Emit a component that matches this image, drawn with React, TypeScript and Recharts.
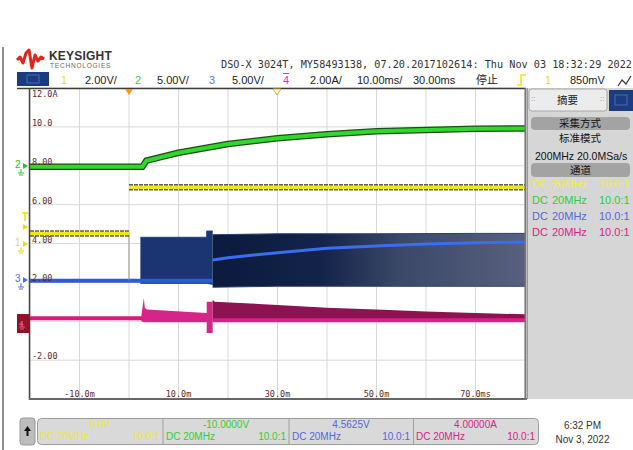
import React from 'react';
import { ComposedChart, Line, Area, XAxis, YAxis, CartesianGrid } from 'recharts';

// time axis (ms) and amplitude axis (ch4 scale, A)
const timeTicks = [-20, -10, 0, 10, 20, 30, 40, 50, 60, 70, 80];
const timeLabelTicks = [-10, 10, 30, 50, 70];
const timeLabels = ['-10.0m', '10.0m', '30.0m', '50.0m', '70.0ms'];
const ampTicks = [-4, -2, 0, 2, 4, 6, 8, 10, 12];
const ampLabelTicks = [12, 10, 8, 6, 4, 2, -2];
const ampLabels = ['12.0A', '10.0', '8.00', '6.00', '4.00', '2.00', '-2.00'];

// channel 1 (yellow)
const ch1PreTime = [-20, 0];
const ch1PreValue = [4.52, 4.52];
const ch1PostTime = [0, 80];
const ch1PostValue = [6.89, 6.89];
const ch1EdgeTime = [0, 0];
const ch1EdgeValue = [4.52, 2.1];

// channel 2 (green)
const ch2Time = [-20, 2.7, 3.5, 10, 20, 30, 40, 50, 60, 70, 80];
const ch2Value = [7.95, 7.95, 8.26, 8.67, 9.12, 9.41, 9.62, 9.77, 9.84, 9.9, 9.92];

// channel 3 (blue)
const ch3FlatTime = [-20, 16.9];
const ch3FlatValue = [2.09, 2.09];
const ch3BurstTime = [2.3, 15.7, 15.7, 16.9];
const ch3BurstLow = [1.95, 1.95, 1.95, 1.9];
const ch3BurstHigh = [4.32, 4.32, 4.64, 4.64];
const ch3SwitchTime = [16.9, 30, 50, 70, 80];
const ch3SwitchLow = [1.75, 1.8, 1.8, 1.8, 1.8];
const ch3SwitchHigh = [4.45, 4.5, 4.5, 4.52, 4.52];
const ch3MeanTime = [16.9, 20, 30, 40, 50, 60, 70, 80];
const ch3MeanValue = [3.15, 3.27, 3.53, 3.75, 3.87, 3.97, 4.04, 4.08];

// channel 4 (magenta)
const ch4FlatTime = [-20, 2.7];
const ch4FlatValue = [0.15, 0.15];
const ch4StartTime = [2.5, 3.0, 3.2, 3.6, 15.7, 15.7, 16.9];
const ch4StartLow = [0.0, -0.05, -0.05, -0.05, -0.05, -0.6, -0.6];
const ch4StartHigh = [0.3, 1.2, 0.7, 0.6, 0.42, 1.0, 1.0];
const ch4RunTime = [16.9, 17.3, 30, 40, 50, 60, 70, 80];
const ch4RunLow = [0.05, 0.05, 0.05, 0.05, 0.05, 0.05, 0.05, 0.05];
const ch4RunHigh = [1.1, 1.0, 0.84, 0.7, 0.6, 0.5, 0.42, 0.36];
const ch4BaseTime = [16.9, 80];
const ch4BaseValue = [0.05, 0.05];

const toPoints = (t: number[], v: number[]) => t.map((x, i) => ({ t: x, v: v[i] }));
const toRange = (t: number[], lo: number[], hi: number[]) => t.map((x, i) => ({ t: x, r: [lo[i], hi[i]] }));

const LABEL = '#5b2a2a';
const MONO = '"DejaVu Sans Mono", monospace';
const SANS = '"Liberation Sans", Arial, sans-serif';
const CJK = '"Noto Sans CJK SC", sans-serif';

function TimeTick(props: any) {
  const { x, payload } = props;
  const i = timeLabelTicks.indexOf(payload.value);
  if (i < 0) return <g />;
  return (
    <text x={x} y={397} textAnchor="middle" fontSize={8.5} fontFamily={MONO} fill={LABEL}>
      {timeLabels[i]}
    </text>
  );
}

function AmpTick(props: any) {
  const { y, payload } = props;
  const i = ampLabelTicks.indexOf(payload.value);
  if (i < 0) return <g />;
  return (
    <text x={32} y={payload.value === 12 ? y + 9 : y - 1} fontSize={8.5} fontFamily={MONO} fill={LABEL}>
      {ampLabels[i]}
    </text>
  );
}

const txt = (x: number, y: number, s: string, color = '#222', size = 11, font = SANS, extra: any = {}) => (
  <div style={{ position: 'absolute', left: x, top: y, fontSize: size, fontFamily: font, color, whiteSpace: 'nowrap', lineHeight: 1, ...extra }}>{s}</div>
);

function Chrome() {
  return (
    <>
      <svg width={633} height={450} style={{ position: 'absolute', left: 0, top: 0 }}>
        <polyline points="17,60 20,57 23,63 26,53 29,50 32,68 35,55 38,61 41,57 44,59" fill="none" stroke="#e1251b" strokeWidth={3} strokeLinejoin="round" />
        <line x1={3} y1={47} x2={3} y2={450} stroke="#666" strokeWidth={1.5} />
        <rect x={17} y={72} width={32} height={14} fill="#1b3d80" />
        <rect x={27} y={75} width={12} height={8} fill="none" stroke="#4a6ab0" strokeWidth={1} />
        {/* trigger edge icon + run mode icon */}
        <path d="M517,85 L521,85 L521,75 L526,75" fill="none" stroke="#f2e21a" strokeWidth={1.5} />
        <path d="M618,86 L622,80 L626,84 L631,76" fill="none" stroke="#333" strokeWidth={1.2} />
        {/* plot frame */}
        <line x1={17} y1={88.5} x2={526} y2={88.5} stroke="#3c3c3c" strokeWidth={1.5} />
        <line x1={29.5} y1={88} x2={29.5} y2={400} stroke="#444" strokeWidth={1.5} />
        <line x1={29} y1={399} x2={527} y2={399} stroke="#666" strokeWidth={2} />
        <line x1={525.5} y1={88} x2={525.5} y2={400} stroke="#777" strokeWidth={2} />
        {/* trigger position markers */}
        <polygon points="125,89 133,89 129,95" fill="#f29a1c" />
        <polygon points="273,89 281,89 277,95" fill="#fff" stroke="#e8a53a" strokeWidth={1} />
        {/* channel ground markers */}
        <polygon points="23,163 28,166 23,169" fill="#22c922" />
        <path d="M21,169 L21,173 M18,173 L24,173 M19,175 L23,175" stroke="#22c922" strokeWidth={1} />
        <path d="M22,213 L28,213 M25,213 L25,221" stroke="#e8e000" strokeWidth={1.5} />
        <polygon points="23,224 28,227 23,230" fill="#e8e000" />
        <polygon points="23,241 28,244 23,247" fill="#e8e000" />
        <path d="M21,247 L21,251 M18,251 L24,251 M19,253 L23,253" stroke="#e8e000" strokeWidth={1} />
        <polygon points="23,277 28,280 23,283" fill="#4d6fe0" />
        <path d="M21,283 L21,287 M18,287 L24,287 M19,289 L23,289" stroke="#4d6fe0" strokeWidth={1} />
        <rect x={17} y={314} width={13} height={19} fill="#8e1426" />
        <path d="M22,323 L22,327 M19,327 L25,327 M20,329 L24,329" stroke="#e85a9a" strokeWidth={1} />
        {/* right panel */}
        <rect x={527} y={88} width={106} height={311} fill="#d6d6d6" />
        <line x1={527.5} y1={88} x2={527.5} y2={399} stroke="#9a9a9a" />
        <rect x={529} y={89} width={78} height={22} rx={3} fill="#ececec" stroke="#a8a8a8" />
        <rect x={609} y={90} width={24} height={21} fill="#1b3d80" />
        <rect x={615} y={95} width={12} height={10} fill="none" stroke="#4a6ab0" />
        <rect x={531} y={117} width={99} height={13} rx={4} fill="#a3a3a3" />
        <rect x={531} y={163} width={99} height={14} rx={4} fill="#a3a3a3" />
        {/* bottom measurement bar */}
        <rect x={20} y={418} width={15} height={27} rx={3} fill="#bdbdbd" stroke="#9a9a9a" />
        <path d="M27.5,426 L24,431 L31,431 Z M26.5,431 L28.5,431 L28.5,436 L26.5,436 Z" fill="#111" />
        <rect x={37.5} y={418.5} width={501} height={26} rx={4} fill="#d9d9d9" stroke="#9c9c9c" />
        <line x1={163} y1={419} x2={163} y2={444} stroke="#a0a0a0" />
        <line x1={289} y1={419} x2={289} y2={444} stroke="#a0a0a0" />
        <line x1={413.5} y1={419} x2={413.5} y2={444} stroke="#a0a0a0" />
      </svg>

      {txt(49, 50, 'KEYSIGHT', '#333', 12, SANS, { fontWeight: 'bold', letterSpacing: 0.2 })}
      {txt(50, 63, 'TECHNOLOGIES', '#666', 6.5, SANS, { letterSpacing: 0.8 })}
      {txt(221, 60, 'DSO-X 3024T, MY58493138, 07.20.2017102614: Thu Nov 03 18:32:29 2022', '#333', 10.2, MONO)}

      {txt(61, 75, '1', '#e2e000')}
      {txt(85, 75, '2.00V/')}
      {txt(135, 75, '2', '#33cc33')}
      {txt(157, 75, '5.00V/')}
      {txt(209, 75, '3', '#5577dd')}
      {txt(232, 75, '5.00V/')}
      {txt(283, 75, '4', '#dd3399', 11, SANS, { textDecoration: 'overline' })}
      {txt(310, 75, '2.00A/')}
      {txt(357, 75, '10.00ms/')}
      {txt(413, 75, '30.00ms')}
      {txt(476, 74, '停止', '#222', 11, CJK)}
      {txt(545, 75, '1', '#e2e000')}
      {txt(570, 75, '850mV')}

      {txt(19, 320, '4', '#f070b0', 8, SANS)}
      {txt(15, 160, '2', '#22c922', 10)}
      {txt(15, 238, '1', '#e8e000', 10)}
      {txt(15, 274, '3', '#4d6fe0', 10)}

      {txt(531, 95, '::', '#888', 8)}
      {txt(600, 95, '::', '#888', 8)}
      {txt(557, 95, '摘要', '#222', 10.5, CJK)}
      {txt(559, 118, '采集方式', '#111', 10.5, CJK)}
      {txt(559, 133, '标准模式', '#111', 10.5, CJK)}
      {txt(535, 151, '200MHz 20.0MSa/s', '#111', 10.5, SANS)}
      {txt(570, 164.5, '通道', '#111', 10.5, CJK)}
      {[['#eded40', 179], ['#33cc33', 195], ['#5566dd', 211], ['#dd2288', 227]].map(([c, y]) => (
        <React.Fragment key={String(y)}>
          {txt(532, Number(y), 'DC', String(c), 11)}
          {txt(552, Number(y), '20MHz', String(c), 11)}
          {txt(599, Number(y), '10.0:1', String(c), 11)}
        </React.Fragment>
      ))}

      {[
        [37, 163, '0.0V', '#e8e840'],
        [163, 289, '-10.0000V', '#33cc33'],
        [289, 413, '4.5625V', '#5566dd'],
        [413, 538, '4.00000A', '#dd2288'],
      ].map(([a, b, v, c]) => (
        <React.Fragment key={String(a)}>
          <div style={{ position: 'absolute', left: Number(a), width: Number(b) - Number(a), top: 420, textAlign: 'center', fontSize: 10, fontFamily: SANS, color: String(c), lineHeight: 1 }}>{v}</div>
          {txt(Number(a) + 3, 432, 'DC 20MHz', String(c), 10)}
          <div style={{ position: 'absolute', left: Number(a), width: Number(b) - Number(a) - 3, top: 432, textAlign: 'right', fontSize: 10, fontFamily: SANS, color: String(c), lineHeight: 1 }}>10.0:1</div>
        </React.Fragment>
      ))}
      <div style={{ position: 'absolute', left: 545, width: 75, top: 419, textAlign: 'center', fontSize: 10, fontFamily: SANS, color: '#333', lineHeight: 1.4 }}>
        6:32 PM<br />Nov 3, 2022
      </div>
    </>
  );
}

export default function App() {
  return (
    <div style={{ position: 'absolute', left: 0, top: 0, width: 633, height: 450, background: '#fff', overflow: 'hidden' }}>
      <ComposedChart width={633} height={450} margin={{ top: 88, right: 108, bottom: 51, left: 30 }} style={{ position: 'absolute', left: 0, top: 0 }}>
        <defs>
          <linearGradient id="ch3Switch" x1="0" y1="0" x2="1" y2="0">
            <stop offset="0%" stopColor="#0b1a3d" />
            <stop offset="35%" stopColor="#13234a" />
            <stop offset="60%" stopColor="#3b4868" />
            <stop offset="100%" stopColor="#58617e" />
          </linearGradient>
        </defs>
        <CartesianGrid stroke="#d8d8d8" />
        <XAxis type="number" dataKey="t" domain={[-20, 80]} ticks={timeTicks} interval={0} mirror axisLine={false} tickLine={false} tick={TimeTick} allowDataOverflow />
        <YAxis type="number" domain={[-4, 12]} ticks={ampTicks} interval={0} mirror axisLine={false} tickLine={false} tick={AmpTick} allowDataOverflow />

        {/* channel 3 */}
        <Line data={toPoints(ch3FlatTime, ch3FlatValue)} dataKey="v" stroke="#2c5ad8" strokeWidth={4} dot={false} activeDot={false} isAnimationActive={false} />
        <Area data={toRange(ch3BurstTime, ch3BurstLow, ch3BurstHigh)} dataKey="r" type="linear" fill="#1a3572" fillOpacity={1} stroke="#20407f" strokeWidth={1} dot={false} activeDot={false} isAnimationActive={false} />
        <Area data={toRange(ch3SwitchTime, ch3SwitchLow, ch3SwitchHigh)} dataKey="r" type="linear" fill="url(#ch3Switch)" fillOpacity={1} stroke="#2a3f70" strokeWidth={1} dot={false} activeDot={false} isAnimationActive={false} />
        <Line data={toPoints(ch3MeanTime, ch3MeanValue)} dataKey="v" stroke="#3a6ef0" strokeWidth={3} dot={false} activeDot={false} isAnimationActive={false} />

        {/* channel 4 */}
        <Line data={toPoints(ch4FlatTime, ch4FlatValue)} dataKey="v" stroke="#d81a7e" strokeWidth={4} dot={false} activeDot={false} isAnimationActive={false} />
        <Area data={toRange(ch4StartTime, ch4StartLow, ch4StartHigh)} dataKey="r" type="linear" fill="#d42689" fillOpacity={1} stroke="none" dot={false} activeDot={false} isAnimationActive={false} />
        <Area data={toRange(ch4RunTime, ch4RunLow, ch4RunHigh)} dataKey="r" type="linear" fill="#8c1252" fillOpacity={1} stroke="none" dot={false} activeDot={false} isAnimationActive={false} />
        <Line data={toPoints(ch4BaseTime, ch4BaseValue)} dataKey="v" stroke="#d8208a" strokeWidth={4} dot={false} activeDot={false} isAnimationActive={false} />

        {/* channel 1 */}
        <Line data={toPoints(ch1EdgeTime, ch1EdgeValue)} dataKey="v" stroke="#9a9a9a" strokeWidth={1} dot={false} activeDot={false} isAnimationActive={false} />
        <Line data={toPoints(ch1PreTime, ch1PreValue)} dataKey="v" stroke="#3a3a1c" strokeOpacity={0.8} strokeWidth={6.5} strokeDasharray="4 1" dot={false} activeDot={false} isAnimationActive={false} />
        <Line data={toPoints(ch1PreTime, ch1PreValue)} dataKey="v" stroke="#f0e81e" strokeWidth={3.5} dot={false} activeDot={false} isAnimationActive={false} />
        <Line data={toPoints(ch1PostTime, ch1PostValue)} dataKey="v" stroke="#3a3a1c" strokeOpacity={0.8} strokeWidth={6.5} strokeDasharray="4 1" dot={false} activeDot={false} isAnimationActive={false} />
        <Line data={toPoints(ch1PostTime, ch1PostValue)} dataKey="v" stroke="#f0e81e" strokeWidth={3.5} dot={false} activeDot={false} isAnimationActive={false} />

        {/* channel 2 */}
        <Line data={toPoints(ch2Time, ch2Value)} dataKey="v" stroke="#1d4d14" strokeWidth={6.5} dot={false} activeDot={false} isAnimationActive={false} />
        <Line data={toPoints(ch2Time, ch2Value)} dataKey="v" stroke="#30d82c" strokeWidth={4} dot={false} activeDot={false} isAnimationActive={false} />
      </ComposedChart>
      <Chrome />
    </div>
  );
}
